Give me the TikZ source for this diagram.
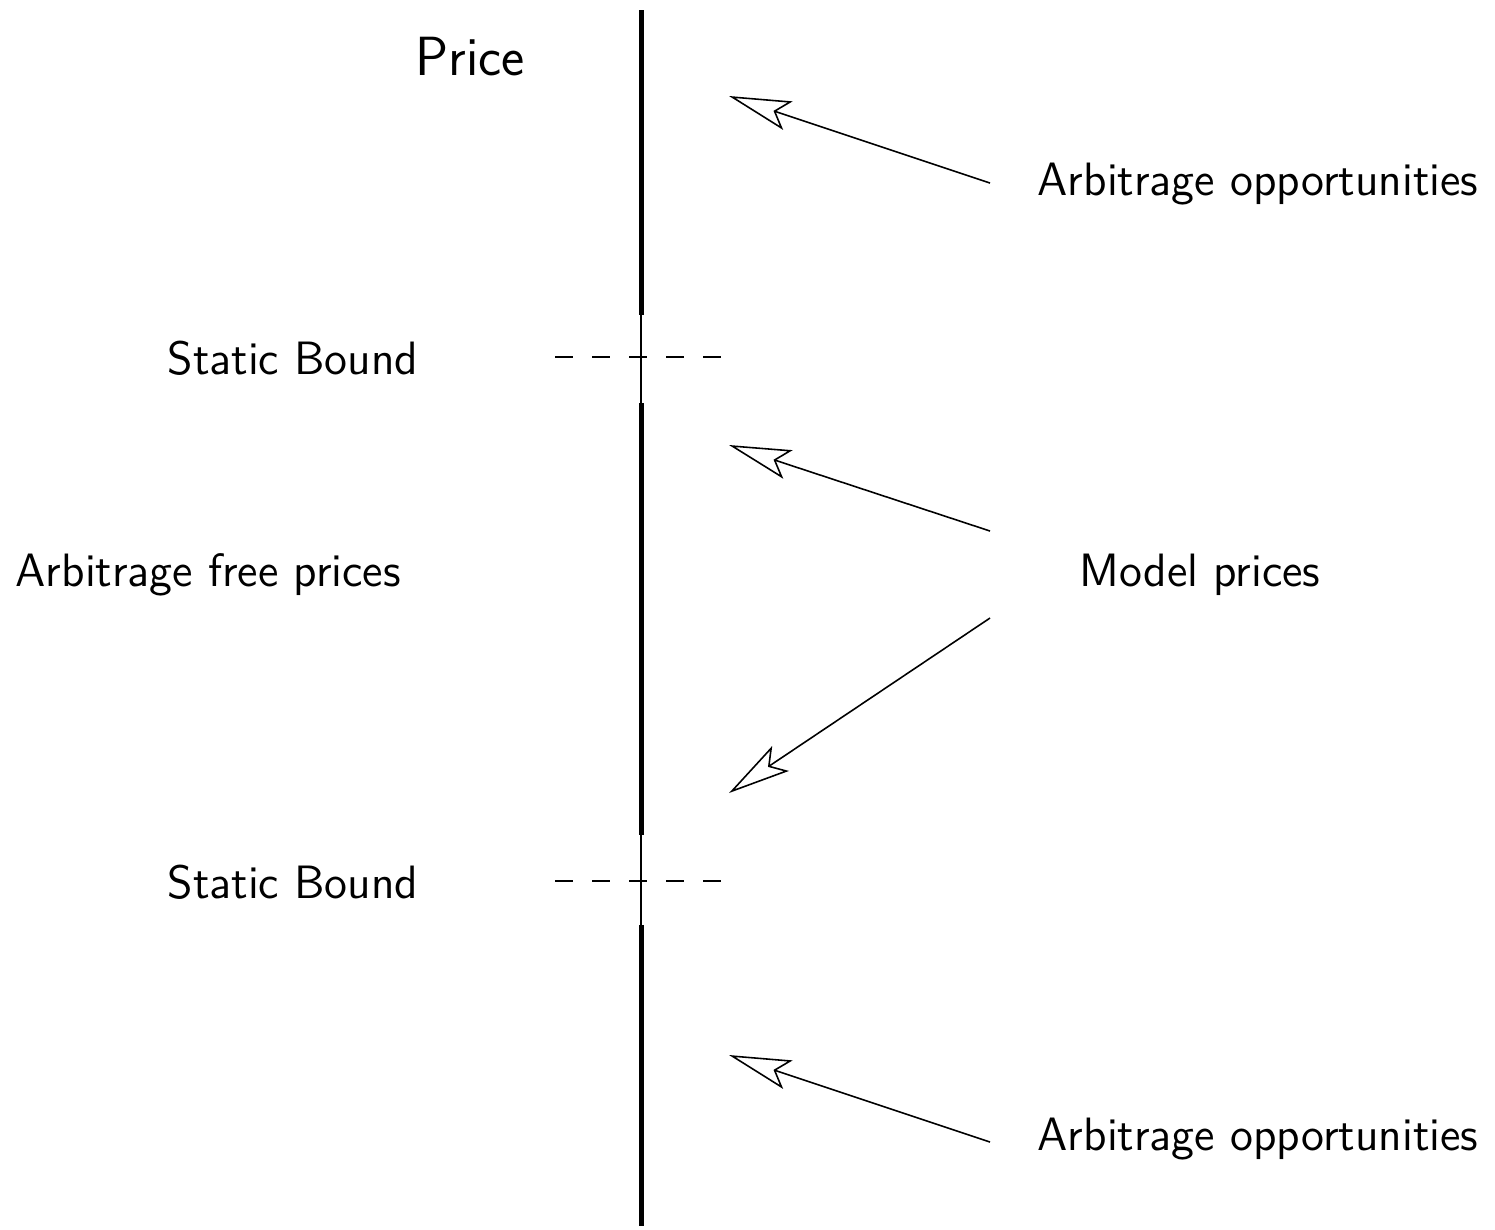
\documentclass[tikz,border=0pt]{standalone}
\usetikzlibrary{arrows.meta}
\begin{document}
\begin{tikzpicture}[x=0.01cm,y=-0.01cm,
  lbl/.style={font=\sffamily\fontsize{13.3}{16}\selectfont, inner sep=0pt},
  bigl/.style={font=\sffamily\fontsize{15.7}{19}\selectfont, inner sep=0pt},
  thickax/.style={line width=0.05cm},
  thinax/.style={line width=0.45pt},
  bound/.style={line width=0.45pt, dash pattern=on 0.18cm off 0.19cm},
  pointer/.style={line width=0.45pt, -{Stealth[open, length=0.62cm, width=0.3cm, inset=0.13cm]}}]
\useasboundingbox (0,0) rectangle (1495,1229);
% axis
\coordinate (t0) at (641,10);
\coordinate (t1) at (641,315);
\coordinate (m0) at (641,403);
\coordinate (m1) at (641,835);
\coordinate (b0) at (641,925);
\coordinate (b1) at (641,1226);
\draw[thinax] (t1) -- (m0);
\draw[thinax] (m1) -- (b0);
\draw[thickax] (t0) -- (t1);
\draw[thickax] (m0) -- (m1);
\draw[thickax] (b0) -- (b1);
% bounds
\coordinate (d1a) at (555,357);
\coordinate (d1b) at (722,357);
\coordinate (d2a) at (555,881);
\coordinate (d2b) at (722,881);
\draw[bound] (d1a) -- (d1b);
\draw[bound] (d2a) -- (d2b);
% labels
\node[bigl] (price) at (470,57) {Price};
\node[lbl, anchor=east] (sb1) at (419,358) {Static Bound};
\node[lbl, anchor=east] (sb2) at (419,882) {Static Bound};
\node[lbl, anchor=west] (afp) at (15,575) {Arbitrage free prices};
\node[lbl] (mp) at (1200,575) {Model prices};
\node[lbl, anchor=west] (ao1) at (1037,184) {Arbitrage opportunities};
\node[lbl, anchor=west] (ao2) at (1037,1139) {Arbitrage opportunities};
% arrows
\coordinate (a1s) at (990,183); \coordinate (a1e) at (729,96);
\coordinate (a2s) at (990,531); \coordinate (a2e) at (729,445);
\coordinate (a3s) at (990,618); \coordinate (a3e) at (729,793);
\coordinate (a4s) at (990,1142); \coordinate (a4e) at (729,1055);
\draw[pointer] (a1s) -- (a1e);
\draw[pointer] (a2s) -- (a2e);
\draw[pointer] (a3s) -- (a3e);
\draw[pointer] (a4s) -- (a4e);
\end{tikzpicture}
\end{document}
